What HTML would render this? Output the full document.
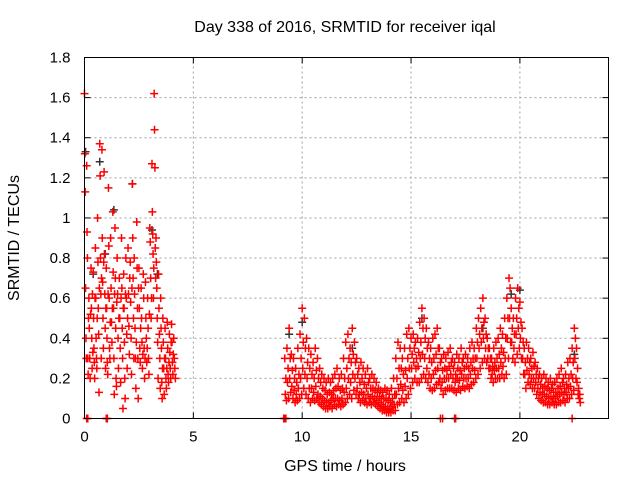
<!DOCTYPE html>
<html><head><meta charset="utf-8"><style>
html,body{margin:0;padding:0;background:#fff;}
svg{display:block;font-family:"Liberation Sans",sans-serif;}
</style></head><body>
<svg id="chart" width="640" height="480" viewBox="0 0 640 480" xmlns="http://www.w3.org/2000/svg">
<text x="345" y="32" font-size="16" text-anchor="middle">Day 338 of 2016, SRMTID for receiver iqal</text>
<text x="345" y="471" font-size="16" text-anchor="middle">GPS time / hours</text>
<text x="19" y="238" font-size="16" text-anchor="middle" transform="rotate(-90 19 238)">SRMTID / TECUs</text>
<g id="grid"></g>
<g id="ticks"></g>
<g id="marks"></g>
<rect x="84.5" y="57.5" width="524" height="361" fill="none" stroke="#000" stroke-width="1"/>
</svg>
<script>
const xTicks=[0,5,10,15,20];
const yTicks=[0,0.2,0.4,0.6,0.8,1,1.2,1.4,1.6,1.8];
const yTickLabels=["0","0.2","0.4","0.6","0.8","1","1.2","1.4","1.6","1.8"];
const times1=[0.0,0.1,0.2,0.3,0.4,0.5,0.6,0.7,0.8,0.9,1.0,1.1,1.2,1.3,1.4,1.5,1.6,1.7,1.8,1.9,2.0,2.1,2.2,2.3,2.4,2.5,2.6,2.7,2.8,2.9,3.0,3.1,3.2,3.3,3.4,3.5,3.6,3.7,3.8,3.9,4.0,4.1];
const values1=[[1.62,1.32,1.13,0.65,0.4,0.3],[1.26,0.93,0.8,0.3,0.22,0.5],[0.6,0.45,0.3,0.2,0.52],[0.75,0.55,0.4,0.25,0.62,0.33],[0.73,0.5,0.35,0.28,0.2,0.6],[0.85,0.6,0.4,0.3,0.25,0.5],[1.0,0.78,0.55,0.42,0.13,0.65],[1.37,1.21,0.8,0.62,0.3,0.7],[1.34,0.9,0.68,0.5,0.35,0.78],[1.23,0.82,0.62,0.45,0.25,0.55],[0.75,0.55,0.4,0.28,0.22,0.62],[1.15,0.86,0.6,0.35,0.3,0.48],[0.9,0.65,0.48,0.38,0.55],[1.03,0.73,0.55,0.3,0.12,0.62],[0.95,0.7,0.45,0.2,0.16,0.58],[0.8,0.62,0.4,0.25,0.5],[0.7,0.5,0.35,0.18,0.6],[0.9,0.65,0.45,0.3,0.05,0.55],[0.72,0.55,0.38,0.2,0.1,0.62],[0.8,0.6,0.42,0.25,0.5],[0.85,0.62,0.46,0.32,0.7],[0.78,0.58,0.4,0.22,0.65],[1.17,0.9,0.7,0.5,0.3,0.8],[0.62,0.45,0.3,0.15,0.38],[0.98,0.75,0.55,0.3,0.1,0.65],[0.75,0.55,0.35,0.28,0.45],[0.65,0.5,0.38,0.25,0.32],[0.72,0.6,0.35,0.2,0.3],[0.68,0.5,0.4,0.28,0.35],[0.6,0.45,0.3,0.22,0.52],[0.95,0.88,0.7,0.5,0.6],[1.27,1.03,0.92,0.82,0.6,0.75],[1.62,1.44,1.25,0.85,0.7,0.9],[0.78,0.65,0.5,0.38,0.2],[0.72,0.55,0.42,0.3,0.15],[0.6,0.45,0.35,0.18,0.1,0.25],[0.5,0.38,0.25,0.12,0.3],[0.45,0.3,0.2,0.15,0.25],[0.48,0.35,0.22,0.18,0.28],[0.42,0.33,0.25,0.2,0.38],[0.47,0.38,0.28,0.22,0.32],[0.4,0.3,0.25,0.2]];
const times2=[9.2,9.3,9.4,9.5,9.6,9.7,9.8,9.9,10.0,10.1,10.2,10.3,10.4,10.5,10.6,10.7,10.8,10.9,11.0,11.1,11.2,11.3,11.4,11.5,11.6,11.7,11.8,11.9,12.0,12.1,12.2,12.3,12.4,12.5,12.6,12.7,12.8,12.9,13.0,13.1,13.2,13.3,13.4,13.5,13.6,13.7,13.8,13.9,14.0,14.1,14.2,14.3,14.4,14.5,14.6,14.7,14.8,14.9,15.0,15.1,15.2,15.3,15.4,15.5,15.6,15.7,15.8,15.9,16.0,16.1,16.2,16.3,16.4,16.5,16.6,16.7,16.8,16.9,17.0,17.1,17.2,17.3,17.4,17.5,17.6,17.7,17.8,17.9,18.0,18.1,18.2,18.3,18.4,18.5,18.6,18.7,18.8,18.9,19.0,19.1,19.2,19.3,19.4,19.5,19.6,19.7,19.8,19.9,20.0,20.1,20.2,20.3,20.4,20.5,20.6,20.7,20.8,20.9,21.0,21.1,21.2,21.3,21.4,21.5,21.6,21.7,21.8,21.9,22.0,22.1,22.2,22.3,22.4,22.5,22.6,22.7];
const values2=[[0.3,0.2,0.12,0.09],[0.35,0.25,0.18,0.1],[0.45,0.3,0.2,0.13],[0.32,0.24,0.16,0.1],[0.3,0.2,0.14,0.08],[0.25,0.18,0.12,0.09],[0.35,0.22,0.15,0.1],[0.42,0.3,0.2,0.12],[0.55,0.38,0.25,0.15],[0.5,0.35,0.22,0.12],[0.4,0.28,0.2,0.1],[0.35,0.25,0.15,0.08],[0.32,0.22,0.15,0.1],[0.28,0.2,0.13,0.09],[0.35,0.24,0.16,0.1],[0.3,0.2,0.12,0.08],[0.25,0.18,0.11,0.07],[0.22,0.15,0.1,0.06],[0.2,0.14,0.09,0.05],[0.18,0.12,0.08,0.05],[0.2,0.13,0.08,0.06],[0.18,0.12,0.09,0.05],[0.2,0.14,0.1,0.07],[0.22,0.15,0.1,0.06],[0.25,0.16,0.1,0.07],[0.2,0.14,0.09,0.06],[0.22,0.15,0.1,0.07],[0.3,0.2,0.13,0.08],[0.38,0.25,0.15,0.1],[0.42,0.3,0.2,0.12],[0.35,0.28,0.18,0.1],[0.45,0.32,0.22,0.14],[0.38,0.28,0.2,0.12],[0.3,0.22,0.15,0.1],[0.25,0.18,0.12,0.08],[0.28,0.2,0.13,0.09],[0.25,0.17,0.12,0.08],[0.22,0.15,0.1,0.07],[0.25,0.18,0.12,0.08],[0.2,0.15,0.1,0.07],[0.22,0.15,0.11,0.08],[0.2,0.14,0.1,0.07],[0.18,0.13,0.09,0.06],[0.15,0.11,0.08,0.05],[0.14,0.1,0.07,0.04],[0.13,0.1,0.06,0.04],[0.15,0.1,0.06,0.03],[0.14,0.09,0.05,0.03],[0.12,0.08,0.05,0.03],[0.15,0.1,0.06,0.04],[0.2,0.12,0.07,0.04],[0.3,0.2,0.12,0.07],[0.38,0.25,0.15,0.08],[0.35,0.25,0.17,0.1],[0.3,0.22,0.14,0.08],[0.35,0.24,0.16,0.1],[0.42,0.3,0.2,0.12],[0.45,0.35,0.25,0.15],[0.4,0.32,0.25,0.18],[0.42,0.35,0.28,0.2],[0.38,0.3,0.25,0.18],[0.4,0.33,0.26,0.18],[0.48,0.38,0.3,0.2],[0.55,0.45,0.32,0.22],[0.5,0.4,0.3,0.2],[0.45,0.35,0.25,0.18],[0.38,0.3,0.22,0.15],[0.35,0.28,0.2,0.14],[0.4,0.3,0.22,0.15],[0.42,0.32,0.24,0.17],[0.45,0.35,0.25,0.18],[0.35,0.28,0.2,0.15],[0.3,0.24,0.18,0.12],[0.32,0.25,0.2,0.14],[0.3,0.24,0.2,0.15],[0.33,0.26,0.2,0.15],[0.35,0.28,0.22,0.15],[0.3,0.25,0.2,0.14],[0.28,0.22,0.18,0.13],[0.32,0.25,0.2,0.15],[0.3,0.24,0.19,0.14],[0.35,0.28,0.22,0.16],[0.3,0.25,0.2,0.15],[0.32,0.26,0.2,0.16],[0.3,0.25,0.2,0.15],[0.35,0.28,0.22,0.17],[0.38,0.3,0.25,0.18],[0.35,0.3,0.24,0.2],[0.45,0.38,0.3,0.22],[0.5,0.42,0.35,0.25],[0.55,0.45,0.38,0.28],[0.6,0.48,0.4,0.3],[0.5,0.42,0.35,0.28],[0.4,0.35,0.3,0.25],[0.35,0.3,0.25,0.2],[0.3,0.26,0.22,0.18],[0.35,0.28,0.24,0.2],[0.38,0.3,0.25,0.2],[0.4,0.32,0.25,0.2],[0.45,0.35,0.28,0.22],[0.42,0.33,0.26,0.2],[0.5,0.4,0.3,0.22],[0.6,0.5,0.4,0.3],[0.7,0.65,0.5,0.38],[0.55,0.45,0.38,0.3],[0.5,0.42,0.35,0.28],[0.6,0.5,0.42,0.32],[0.65,0.55,0.45,0.35],[0.58,0.48,0.4,0.3],[0.45,0.38,0.3,0.22],[0.35,0.28,0.22,0.15],[0.38,0.3,0.24,0.18],[0.35,0.28,0.22,0.17],[0.3,0.25,0.2,0.15],[0.33,0.26,0.2,0.15],[0.28,0.22,0.18,0.12],[0.25,0.2,0.15,0.1],[0.22,0.17,0.13,0.09],[0.2,0.15,0.12,0.08],[0.22,0.16,0.12,0.08],[0.2,0.15,0.11,0.07],[0.18,0.14,0.1,0.07],[0.2,0.15,0.11,0.08],[0.17,0.13,0.1,0.07],[0.18,0.13,0.1,0.07],[0.2,0.15,0.11,0.08],[0.22,0.16,0.12,0.08],[0.25,0.18,0.13,0.09],[0.2,0.15,0.12,0.08],[0.22,0.17,0.13,0.1],[0.28,0.2,0.15,0.1],[0.3,0.22,0.16,0.12],[0.35,0.28,0.2,0.14],[0.45,0.4,0.3,0.2],[0.35,0.25,0.18,0.12],[0.15,0.12,0.1,0.08]];
const zeroTimes=[0.1,0.15,1.0,1.05,9.15,9.2,9.25,16.35,16.45,17.0,17.05,22.4];
const grayTimes=[0.05,0.4,0.7,0.95,1.35,2.2,3.1,3.35,9.4,10.0,12.3,15.5,18.3,19.6,20.0,22.5];
const grayValues=[1.33,0.72,1.28,0.82,1.04,1.17,0.94,0.72,0.42,0.48,0.35,0.5,0.45,0.62,0.64,0.32];

const NS="http://www.w3.org/2000/svg";
const X0=84.5,X1=608.5,Y0=418.5,Y1=57.5,XMAX=24.07,YMAX=1.8;
const sx=t=>X0+(X1-X0)*t/XMAX;
const sy=v=>Y0-(Y0-Y1)*v/YMAX;
function mk(tag,attrs,parent){const e=document.createElementNS(NS,tag);for(const k in attrs)e.setAttribute(k,attrs[k]);parent.appendChild(e);return e;}
const grid=document.getElementById('grid'),ticks=document.getElementById('ticks'),marks=document.getElementById('marks');
xTicks.forEach((t,i)=>{
  const x=sx(t);
  if(t>0){const g=mk('line',{x1:x,x2:x,y1:Y0,y2:Y1,stroke:'#a0a0a0','stroke-dasharray':'2,3'},grid);
  
  }
  mk('line',{x1:x,x2:x,y1:Y0,y2:Y0-6,stroke:'#000'},ticks);
  mk('line',{x1:x,x2:x,y1:Y1,y2:Y1+6,stroke:'#000'},ticks);
  const lb=mk('text',{x:x,y:Y0+23,'font-size':'15','text-anchor':'middle'},ticks);
  lb.textContent=String(t);
  
  
});
yTicks.forEach((v,i)=>{
  const y=sy(v);
  if(v>0&&v<YMAX){const g=mk('line',{x1:X0,x2:X1,y1:y,y2:y,stroke:'#a0a0a0','stroke-dasharray':'2,3'},grid);
  
  }
  mk('line',{x1:X0,x2:X0+6,y1:y,y2:y,stroke:'#000'},ticks);
  mk('line',{x1:X1,x2:X1-6,y1:y,y2:y,stroke:'#000'},ticks);
  const lb=mk('text',{x:X0-14,y:y+5,'font-size':'15','text-anchor':'end'},ticks);
  lb.textContent=yTickLabels[i];
  
  
});
function plus(t,v,color){
  const x=sx(t),y=sy(v);
  const p=mk('path',{d:`M${x-4} ${y}H${x+4}M${x} ${y-4}V${y+4}`,stroke:color,'stroke-width':'1.5',fill:'none'},marks);
  
  
}
grayTimes.forEach((t,i)=>plus(t,grayValues[i],'#333'));
times1.forEach((t,i)=>{const n=values1[i].length;values1[i].forEach((v,j)=>plus(t+j*0.1/n,v,'#ff0000'));});
times2.forEach((t,i)=>{const n=values2[i].length;values2[i].forEach((v,j)=>plus(t+[0,0.05,0.025,0.075][j%4],v,'#ff0000'));});
zeroTimes.forEach(t=>plus(t,0,'#ff0000'));
</script>
</body></html>
